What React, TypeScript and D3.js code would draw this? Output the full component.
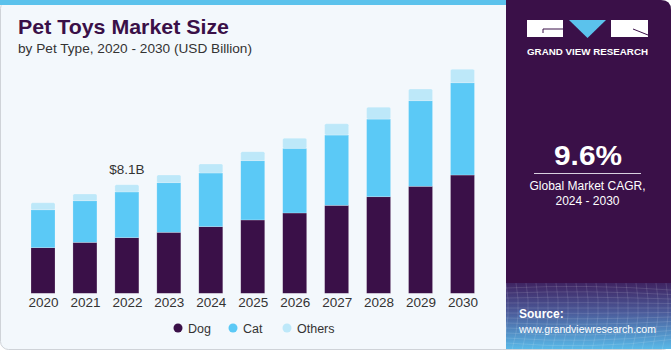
import React, { useEffect, useRef } from 'react';
import * as d3 from 'd3';

const years = ['2020', '2021', '2022', '2023', '2024', '2025', '2026', '2027', '2028', '2029', '2030'];
const dog = [3.4, 3.8, 4.15, 4.55, 4.97, 5.47, 5.99, 6.56, 7.2, 7.98, 8.82];
const cat = [2.83, 3.1, 3.41, 3.7, 4.0, 4.42, 4.82, 5.24, 5.79, 6.38, 6.88];
const others = [0.52, 0.5, 0.54, 0.57, 0.67, 0.67, 0.75, 0.84, 0.89, 0.87, 1.0];
const seriesKeys = ['Dog', 'Cat', 'Others'];
const seriesColors = ['#3a1048', '#5bc9f6', '#bde8f9'];
const calloutYear = '2022';
const calloutText = '$8.1B';

const W = 671;
const H = 350;
const FONT = '"Liberation Sans", Arial, sans-serif';

export default function App() {
	const ref = useRef<SVGSVGElement | null>(null);

	useEffect(() => {
		const svg = d3.select(ref.current);
		svg.selectAll('*').remove();
		svg.style('font-family', FONT);

		const defs = svg.append('defs');
		const grad = defs
			.append('linearGradient')
			.attr('id', 'srcGrad')
			.attr('x1', 0)
			.attr('y1', 0)
			.attr('x2', 0)
			.attr('y2', 1);
		grad.append('stop').attr('offset', '0%').attr('stop-color', '#3f2462');
		grad.append('stop').attr('offset', '45%').attr('stop-color', '#4b5b9a');
		grad.append('stop').attr('offset', '100%').attr('stop-color', '#59b9e8');

		// card background
		svg.append('rect')
			.attr('x', 0.5)
			.attr('y', 0.5)
			.attr('width', W - 1)
			.attr('height', H - 1)
			.attr('rx', 8)
			.attr('fill', '#f3f8fc')
			.attr('stroke', '#cfd3d8');
		// top stripe
		svg.append('rect').attr('x', 0).attr('y', 0).attr('width', 506).attr('height', 5).attr('fill', '#5bc2ec');

		// right panel
		svg.append('path')
			.attr('d', `M506,0 H${W - 10} Q${W},0 ${W},10 V283 H506 Z`)
			.attr('fill', '#3a1048');
		svg.append('rect').attr('x', 506).attr('y', 283).attr('width', W - 506).attr('height', H - 283 - 1).attr('fill', 'url(#srcGrad)');
		// faint mesh on the source area
		const mesh = svg.append('g').attr('stroke', '#ffffff').attr('stroke-opacity', 0.12).attr('fill', 'none');
		for (let i = 0; i < 12; i++) {
			mesh.append('path').attr('d', `M506,${288 + i * 5} Q590,${284 + i * 6} ${W},${290 + i * 4.5}`);
		}
		for (let i = 0; i < 18; i++) {
			const x = 506 + i * 10;
			mesh.append('path').attr('d', `M${x},283 Q${x + 6},315 ${x - 4},${H}`);
		}

		// logo
		const logo = svg.append('g');
		logo.append('rect').attr('x', 527).attr('y', 20).attr('width', 36).attr('height', 17).attr('fill', '#ffffff');
		logo.append('path').attr('d', 'M543,29 H563 M543,29 V33').attr('stroke', '#3a1048').attr('stroke-width', 1).attr('fill', 'none');
		logo.append('path').attr('d', 'M569,20 H606 L587.5,38 Z').attr('fill', '#5bc2ec');
		logo.append('rect').attr('x', 611).attr('y', 20).attr('width', 37).attr('height', 17).attr('fill', '#ffffff');
		logo.append('path').attr('d', 'M633,29 L648,35').attr('stroke', '#3a1048').attr('stroke-width', 1);
		logo.append('text')
			.attr('x', 527)
			.attr('y', 55)
			.attr('fill', '#ffffff')
			.attr('font-size', 9.5)
			.attr('font-weight', 'bold')
			.attr('textLength', 121)
			.attr('lengthAdjust', 'spacingAndGlyphs')
			.text('GRAND VIEW RESEARCH');

		// CAGR block
		svg.append('text')
			.attr('x', 554)
			.attr('y', 165)
			.attr('fill', '#ffffff')
			.attr('font-size', 27)
			.attr('font-weight', 'bold')
			.attr('textLength', 68)
			.attr('lengthAdjust', 'spacingAndGlyphs')
			.text('9.6%');
		svg.append('line').attr('x1', 534).attr('x2', 641).attr('y1', 173.5).attr('y2', 173.5).attr('stroke', '#d8d0e0').attr('stroke-width', 1);
		svg.append('text')
			.attr('x', 587.5)
			.attr('y', 190)
			.attr('text-anchor', 'middle')
			.attr('fill', '#ffffff')
			.attr('font-size', 12)
			.text('Global Market CAGR,');
		svg.append('text')
			.attr('x', 587.5)
			.attr('y', 205)
			.attr('text-anchor', 'middle')
			.attr('fill', '#ffffff')
			.attr('font-size', 12)
			.text('2024 - 2030');

		// source
		svg.append('text').attr('x', 519).attr('y', 318).attr('fill', '#ffffff').attr('font-size', 12).attr('font-weight', 'bold').text('Source:');
		svg.append('text')
			.attr('x', 519)
			.attr('y', 333)
			.attr('fill', '#ffffff')
			.attr('font-size', 10.8)
			.attr('textLength', 137)
			.attr('lengthAdjust', 'spacingAndGlyphs')
			.text('www.grandviewresearch.com');

		// titles
		svg.append('text')
			.attr('x', 18)
			.attr('y', 34)
			.attr('fill', '#3a1048')
			.attr('font-size', 21)
			.attr('font-weight', 'bold')
			.attr('textLength', 211)
			.attr('lengthAdjust', 'spacingAndGlyphs')
			.text('Pet Toys Market Size');
		svg.append('text')
			.attr('x', 18)
			.attr('y', 53)
			.attr('fill', '#333333')
			.attr('font-size', 13.5)
			.attr('textLength', 234)
			.attr('lengthAdjust', 'spacingAndGlyphs')
			.text('by Pet Type, 2020 - 2030 (USD Billion)');

		// chart
		const data = years.map((y, i) => ({ year: y, Dog: dog[i], Cat: cat[i], Others: others[i] }));
		const x = d3.scalePoint<string>().domain(years).range([43, 462.5]);
		const y = d3.scaleLinear().domain([0, 17]).range([293.3, 293.3 - 17 * 13.41]);
		const color = d3.scaleOrdinal<string, string>().domain(seriesKeys).range(seriesColors);
		const stacked = d3.stack<any>().keys(seriesKeys)(data);
		const barW = 24;

		const g = svg.append('g');
		stacked.forEach(layer => {
			g.append('g')
				.selectAll('rect')
				.data(layer)
				.enter()
				.append('rect')
				.attr('x', d => (x(d.data.year) as number) - barW / 2)
				.attr('y', d => y(d[1]))
				.attr('width', barW)
				.attr('height', d => y(d[0]) - y(d[1]))
				.attr('rx', layer.key === 'Others' ? 1.5 : 0)
				.attr('fill', color(layer.key))
				.attr('stroke', '#ffffff')
				.attr('stroke-opacity', 0.35)
				.attr('stroke-width', 0.6);
		});

		// x axis labels
		const axis = d3.axisBottom(x).tickSize(0).tickPadding(0);
		const ax = g.append('g').attr('transform', 'translate(0,296)').call(axis);
		ax.select('.domain').remove();
		ax.selectAll('text').attr('font-size', 13.5).attr('fill', '#333333').attr('font-family', FONT).attr('dy', '0.78em');

		// callout
		const ci = years.indexOf(calloutYear);
		const total = dog[ci] + cat[ci] + others[ci];
		g.append('text')
			.attr('x', x(calloutYear) as number)
			.attr('y', y(total) - 11)
			.attr('text-anchor', 'middle')
			.attr('font-size', 13.5)
			.attr('fill', '#333333')
			.text(calloutText);

		// legend
		const legendX = [178, 233, 287];
		const lg = svg.append('g');
		seriesKeys.forEach((k, i) => {
			lg.append('circle').attr('cx', legendX[i]).attr('cy', 328).attr('r', 4.5).attr('fill', color(k));
			lg.append('text').attr('x', legendX[i] + 10).attr('y', 332.5).attr('font-size', 12.5).attr('fill', '#333333').text(k);
		});
	}, []);

	return (
		<svg
			ref={ref}
			width={W}
			height={H}
			style={{ position: 'absolute', left: 0, top: 0, display: 'block' }}
		/>
	);
}
